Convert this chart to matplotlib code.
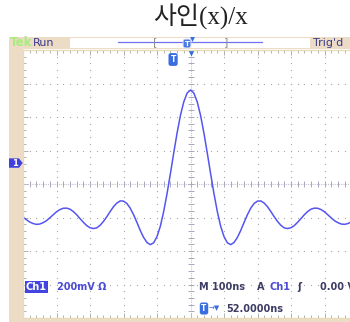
import matplotlib.pyplot as plt
from matplotlib.patches import Rectangle, Polygon
from matplotlib.transforms import blended_transform_factory

# Ch1 trace: time (ns) and voltage (mV)
time_ns = [
    -500, -490, -480, -470, -460, -450, -440, -430, -420, -410,
    -400, -390, -380, -370, -360, -350, -340, -330, -320, -310,
    -300, -290, -280, -270, -260, -250, -240, -230, -220, -210,
    -200, -190, -180, -170, -160, -150, -140, -130, -120, -110,
    -100, -90, -80, -70, -60, -50, -40, -30, -20, -10,
    0,
    10, 20, 30, 40, 50, 60, 70, 80, 90, 100,
    110, 120, 130, 140, 150, 160, 170, 180, 190, 200,
    210, 220, 230, 240, 250, 260, 270, 280, 290, 300,
    310, 320, 330, 340, 350, 360, 370, 380, 390, 400,
    410, 420, 430, 440, 450, 460, 470, 480,
]
ch1_mv = [
    -323, -338, -352, -361, -366, -364, -356, -344, -327, -309,
    -291, -278, -270, -269, -275, -289, -308, -331, -353, -373,
    -386, -391, -387, -372, -349, -321, -290, -261, -239, -226,
    -227, -241, -269, -308, -354, -402, -444, -474, -487, -476,
    -439, -377, -289, -182, -63, 61, 180, 285, 366, 418,
    436,
    418, 366, 285, 180, 61, -63, -182, -289, -377, -439,
    -476, -487, -474, -444, -402, -354, -308, -269, -241, -227,
    -226, -239, -261, -290, -321, -349, -372, -387, -391, -386,
    -373, -353, -331, -308, -289, -275, -269, -270, -278, -291,
    -309, -327, -344, -356, -364, -366, -361, -352,
]

title = "사인(x)/x"
ns_per_div = 100
mv_per_div = 200
screen_center_mv = -125   # Ch1 ground sits 0.63 div above the centre line
trigger_offset_ns = -52

W, H = 350, 322
BEIGE = "#ecdcc6"
TRACE = "#5555f0"
NAVY = "#3a3a8c"
DARK = "#3c3c64"
BLUE_TXT = "#4b4bd6"
DOT = "#a9a9a9"


def fx(px):
    return px / W


def fy(py):
    return 1 - py / H


def fig_rect(fig, x0, y0, x1, y1, color, **kw):
    fig.add_artist(Rectangle((fx(x0), fy(y1)), (x1 - x0) / W, (y1 - y0) / H,
                             transform=fig.transFigure, facecolor=color,
                             edgecolor="none", **kw))


fig = plt.figure(figsize=(W / 100, H / 100), dpi=100)
fig.patch.set_facecolor("white")

# beige frame around the screen
fig_rect(fig, 9, 37, 23, 322, BEIGE)
fig_rect(fig, 9, 319, 350, 322, BEIGE)
fig_rect(fig, 9, 37, 350, 48.5, BEIGE)
fig_rect(fig, 70, 38, 310, 47.5, "white")

# graticule: 10 x 8 divisions, 33.5 px each, right part runs off the picture
ax = fig.add_axes([fx(23), fy(318), 335 / W, 268 / H])
x0, x1 = -5 * ns_per_div, 5 * ns_per_div
y0, y1 = screen_center_mv - 4 * mv_per_div, screen_center_mv + 4 * mv_per_div
ax.set_xlim(x0, x1)
ax.set_ylim(y0, y1)

# dotted grid lines (5 dots per division)
sub_x = [x0 + i * ns_per_div / 5 for i in range(51)]
sub_y = [y0 + i * mv_per_div / 5 for i in range(41)]
for i in range(1, 10):
    if i == 5:
        continue
    gx = x0 + i * ns_per_div
    ax.plot([gx] * len(sub_y), sub_y, ls="none", marker="s", ms=0.8,
            mec="none", color=DOT)
for i in range(1, 8):
    if i == 4:
        continue
    gy = y0 + i * mv_per_div
    ax.plot(sub_x, [gy] * len(sub_x), ls="none", marker="s", ms=0.8,
            mec="none", color=DOT)

# centre cross with small ticks
ax.axvline(0, color="#c4c4d2", lw=0.8, ls=(0, (1, 1)))
ax.axhline(screen_center_mv, color="#c4c4d2", lw=0.8, ls=(0, (1, 1)))
ax.plot([0] * len(sub_y), sub_y, ls="none", marker="_", ms=5, mew=0.7,
        color="#a8a8bc")
ax.plot(sub_x, [screen_center_mv] * len(sub_x), ls="none", marker="|", ms=4,
        mew=0.7, color="#a8a8bc")

# edge ticks
ax.set_xticks([x0 + i * ns_per_div for i in range(11)])
ax.set_xticks(sub_x, minor=True)
ax.set_yticks([y0 + i * mv_per_div for i in range(9)])
ax.set_yticks(sub_y, minor=True)
ax.tick_params(which="both", direction="in", top=True, right=True,
               labelbottom=False, labelleft=False, color="#b0b0b0", width=0.7)
ax.tick_params(which="major", length=3.5)
ax.tick_params(which="minor", length=2)
for sp in ax.spines.values():
    sp.set_color("#e6dcb4")
    sp.set_linewidth(1.0)

# the trace
ax.plot(time_ns, ch1_mv, color=TRACE, lw=1.1, solid_joinstyle="round")

# trigger marker and centre arrow on top of the graticule
top = blended_transform_factory(ax.transData, fig.transFigure)
ax.text(trigger_offset_ns, fy(59.5), "T", transform=top, ha="center",
        va="center", color="white", fontsize=5.5, fontweight="bold",
        bbox=dict(boxstyle="round,pad=0.25,rounding_size=0.3", fc="#3a6ee0",
                  ec="none"), clip_on=False)
ax.plot([0], [fy(52.5)], transform=top, marker="v", ms=5, color="#2f6de0",
        mec="none", clip_on=False)

# Ch1 ground marker on the left edge
gnd = blended_transform_factory(fig.transFigure, ax.transData)
h = 0.14 * mv_per_div
fig.add_artist(Polygon([(fx(9), -h), (fx(19), -h), (fx(22.7), 0),
                        (fx(19), h), (fx(9), h)], closed=True,
                       transform=gnd, facecolor="#4040e0", edgecolor="none"))
fig.text(fx(15), 0, "1", transform=gnd, ha="center", va="center",
         color="white", fontsize=6, fontweight="bold")

# status bar
fig.text(fx(9.5), fy(42.5), "Tek", color="#a8ec7c", fontsize=8.5,
         fontweight="bold", va="center", ha="left")
fig.text(fx(33), fy(42.5), "Run", color=NAVY, fontsize=8, va="center",
         ha="left")
fig.text(fx(313), fy(42.5), "Trig'd", color=NAVY, fontsize=8, va="center",
         ha="left")
fig.add_artist(plt.Line2D([fx(118), fx(262)], [fy(42.3), fy(42.3)],
                          transform=fig.transFigure, color="#7070f0", lw=0.9))
fig.text(fx(155), fy(42.5), "[", color="#909090", fontsize=8, va="center",
         ha="center")
fig.text(fx(226), fy(42.5), "]", color="#909090", fontsize=8, va="center",
         ha="center")
fig.text(fx(187), fy(43.5), "T", color="white", fontsize=5, fontweight="bold",
         va="center", ha="center",
         bbox=dict(boxstyle="round,pad=0.2,rounding_size=0.3", fc="#4a7ae6",
                   ec="#dcdcff", lw=0.6))
fig.add_artist(plt.Line2D([fx(191.5)], [fy(38.5)], transform=fig.transFigure,
                          marker="v", ms=3.5, color="#2f6de0", mec="none"))

# title
fig.text(fx(200), fy(17), title, ha="center", va="center", fontsize=18,
         color="#222222", family=["Liberation Serif", "Noto Sans CJK KR"])

# readouts
fs = 7
fig.text(fx(26), fy(286.7), "Ch1", color="white", fontsize=fs,
         fontweight="bold", va="center", ha="left",
         bbox=dict(boxstyle="square,pad=0.12", fc="#4444e0", ec="none"))
fig.text(fx(57), fy(286.7), "200mV \u03a9", color=BLUE_TXT, fontsize=fs,
         fontweight="bold", va="center", ha="left")
fig.text(fx(199), fy(286.7), "M 100ns", color=DARK, fontsize=fs,
         fontweight="bold", va="center", ha="left")
fig.text(fx(257), fy(286.7), "A", color=DARK, fontsize=fs, fontweight="bold",
         va="center", ha="left")
fig.text(fx(270), fy(286.7), "Ch1", color=BLUE_TXT, fontsize=fs,
         fontweight="bold", va="center", ha="left")
fig.text(fx(297), fy(286.7), "\u0283", color=DARK, fontsize=fs,
         fontweight="bold", va="center", ha="left")
fig.text(fx(320), fy(286.7), "0.00 V", color=DARK, fontsize=fs,
         fontweight="bold", va="center", ha="left")
fig.text(fx(204), fy(308.5), "T", color="white", fontsize=5.5,
         fontweight="bold", va="center", ha="center",
         bbox=dict(boxstyle="round,pad=0.2,rounding_size=0.3", fc="#3a6ee0",
                   ec="none"))
fig.text(fx(208.5), fy(308.5), "\u2192\u25bc", color="#3a6ee0", fontsize=5,
         va="center", ha="left")
fig.text(fx(226), fy(308.5), "52.0000ns", color=DARK, fontsize=fs,
         fontweight="bold", va="center", ha="left")

fig.savefig("out.png", dpi=100)
